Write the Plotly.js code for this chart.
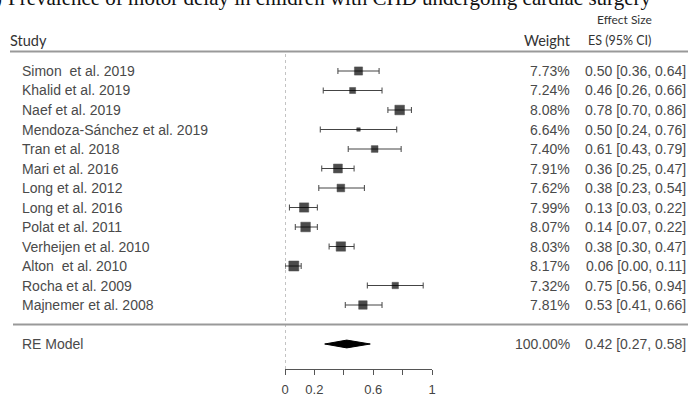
<!DOCTYPE html>
<html>
<head>
<meta charset="utf-8">
<script src="https://cdn.plot.ly/plotly-3.0.1.min.js"></script>
<style>html,body{margin:0;padding:0;background:#fff;}#chart{width:688px;height:396px;}</style>
</head>
<body>
<div id="chart"></div>
<script>
// ---- data ----
var studies = ["Simon  et al. 2019","Khalid et al. 2019","Naef et al. 2019","Mendoza-Sánchez et al. 2019","Tran et al. 2018","Mari et al. 2016","Long et al. 2012","Long et al. 2016","Polat et al. 2011","Verheijen et al. 2010","Alton  et al. 2010","Rocha et al. 2009","Majnemer et al. 2008"];
var es      = [0.50,0.46,0.78,0.50,0.61,0.36,0.38,0.13,0.14,0.38,0.06,0.75,0.53];
var ciLow   = [0.36,0.26,0.70,0.24,0.43,0.25,0.23,0.03,0.07,0.30,0.00,0.56,0.41];
var ciHigh  = [0.64,0.66,0.86,0.76,0.79,0.47,0.54,0.22,0.22,0.47,0.11,0.94,0.66];
var weights = [7.73,7.24,8.08,6.64,7.40,7.91,7.62,7.99,8.07,8.03,8.17,7.32,7.81];
var reLabel = "RE Model";
var reEs = 0.42, reLow = 0.27, reHigh = 0.58, reWeight = 100.00;
var xTickVals = [0, 0.2, 0.4, 0.6, 0.8, 1];
var xTickText = ["0", "0.2", "", "0.6", "", "1"];
var titleText = "Prevalence of motor delay in children with CHD undergoing cardiac surgery";

// ---- layout helpers (pixel geometry) ----
var W = 688, H = 396;
var PL = 285, PR = 432;       // pixel x of 0 and 1
var PB = 369;                 // pixel y of axis line
var n = studies.length;
var rows = studies.map(function(_, i){ return n - i; });
var rowTop = n, rowTopPx = 71, rowStep = 19.5;
function rowToPx(r){ return rowTopPx + (rowTop - r) * rowStep; }
var yMin = rowTop - (PB - rowTopPx) / rowStep;
var yMax = rowTop + rowTopPx / rowStep;
function px2paperX(px){ return (px - PL) / (PR - PL); }
function px2paperY(py){ return (PB - py) / PB; }
function row2paperY(r){ return px2paperY(rowToPx(r)); }

var wMin = Math.min.apply(null, weights), wMax = Math.max.apply(null, weights);
var sizes = weights.map(function(w){ return 3.5 + (w - wMin) / (wMax - wMin) * 6.5; });

var traces = [{
  type: 'scatter', mode: 'markers',
  x: es, y: rows,
  marker: {symbol: 'square', color: '#000', size: sizes, line: {width: 0.5, color: '#000'}},
  error_x: {
    type: 'data', symmetric: false,
    array: es.map(function(v, i){ return ciHigh[i] - v; }),
    arrayminus: es.map(function(v, i){ return v - ciLow[i]; }),
    color: '#444', thickness: 1, width: 3
  },
  hoverinfo: 'skip', showlegend: false, cliponaxis: false
}, {
  type: 'scatter', mode: 'lines',
  x: [reLow, reEs, reHigh, reEs, reLow],
  y: [-1, -1 + 0.2, -1, -1 - 0.2, -1],
  fill: 'toself', fillcolor: '#000', line: {color: '#000', width: 1},
  hoverinfo: 'skip', showlegend: false
}];

var txtFont = {family: 'Liberation Sans, Arial, sans-serif', size: 14, color: '#4a4a4a'};
var hdrFont = {family: 'Lato, sans-serif', size: 14.5, color: '#333'};
var ann = [];
function addText(text, px, r, anchor, font, yPaper){
  ann.push({text: text, xref: 'paper', yref: 'paper', x: px2paperX(px),
    y: (yPaper !== undefined) ? yPaper : row2paperY(r),
    xanchor: anchor, yanchor: 'middle', showarrow: false, font: font});
}
function fmt(v){ return v.toFixed(2); }
studies.forEach(function(s, i){
  addText(s, 20, rows[i], 'left', txtFont);
  addText(fmt(weights[i]) + '%', 572, rows[i], 'right', txtFont);
  addText(fmt(es[i]) + ' [' + fmt(ciLow[i]) + ', ' + fmt(ciHigh[i]) + ']', 688, rows[i], 'right', txtFont);
});
addText(reLabel, 20, -1, 'left', txtFont);
addText(fmt(reWeight) + '%', 572, -1, 'right', txtFont);
addText(fmt(reEs) + ' [' + fmt(reLow) + ', ' + fmt(reHigh) + ']', 688, -1, 'right', txtFont);
// headers
addText('Study', 8, 0, 'left', hdrFont, px2paperY(40));
addText('Weight', 573, 0, 'right', hdrFont, px2paperY(40));
addText('ES (95% CI)', 586, 0, 'left', {family: 'Lato, sans-serif', size: 12.5, color: '#333'}, px2paperY(40));
addText('Effect Size', 595, 0, 'left', {family: 'Lato, sans-serif', size: 12, color: '#333'}, px2paperY(20));
// cropped title (cut off at the top edge, as in the reference)
addText(titleText, 6, 0, 'left', {family: 'Liberation Serif, serif', size: 21, color: '#111'}, px2paperY(-1.5));
addText(')', 4, 0, 'right', {family: 'Liberation Serif, serif', size: 21, color: '#111'}, px2paperY(-1.5));

var shapes = [
  {type: 'line', xref: 'paper', yref: 'paper', x0: px2paperX(10), x1: px2paperX(688), y0: row2paperY(n + 1), y1: row2paperY(n + 1), line: {color: '#999', width: 2}},
  {type: 'line', xref: 'paper', yref: 'paper', x0: px2paperX(13), x1: px2paperX(688), y0: row2paperY(0), y1: row2paperY(0), line: {color: '#999', width: 2}},
  {type: 'line', xref: 'x', yref: 'paper', x0: 0, x1: 0, y0: 0, y1: row2paperY(n + 1), line: {color: '#888', width: 1, dash: 'dot'}, layer: 'below'}
];

var layout = {
  width: W, height: H,
  margin: {l: PL, r: W - PR, t: 0, b: H - PB, pad: 0},
  paper_bgcolor: '#fff', plot_bgcolor: 'rgba(0,0,0,0)',
  showlegend: false,
  xaxis: {range: [0, 1], tickvals: xTickVals, ticktext: xTickText, ticks: 'outside', ticklen: 5, tickcolor: '#555', tickwidth: 1,
          showline: true, linecolor: '#555', linewidth: 1, showgrid: false, zeroline: false,
          tickfont: {family: 'Liberation Sans, Arial, sans-serif', size: 13, color: '#444'}, ticklabelstandoff: 3, fixedrange: true},
  yaxis: {range: [yMin, yMax], visible: false, showgrid: false, zeroline: false, fixedrange: true},
  annotations: ann, shapes: shapes
};
Plotly.newPlot('chart', traces, layout, {staticPlot: true, displayModeBar: false});
</script>
</body>
</html>
